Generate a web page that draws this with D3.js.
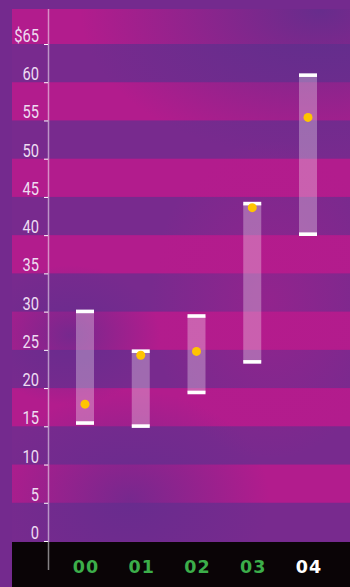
<!DOCTYPE html>
<html><head><meta charset="utf-8">
<script src="https://cdn.jsdelivr.net/npm/d3@7"></script>
<style>html,body{margin:0;padding:0;background:#6e2a8e;}svg{display:block;}</style>
</head><body>
<script>
const years = ["00","01","02","03","04"];
const highs = [30.0, 24.8, 29.4, 44.1, 60.9];
const lows = [15.4, 15.0, 19.4, 23.4, 40.1];
const closes = [17.9, 24.3, 24.8, 43.6, 55.4];
const tickValues = [0,5,10,15,20,25,30,35,40,45,50,55,60,65];
const tickLabels = ["0","5","10","15","20","25","30","35","40","45","50","55","60","$65"];
const bandStarts = [5,15,25,35,45,55,65];

const W = 350, H = 587;
const svg = d3.select("body").append("svg").attr("width", W).attr("height", H);
const defs = svg.append("defs");

const y = d3.scaleLinear().domain([0, 65]).range([541, 44]);
const x = d3.scalePoint().domain(years).range([85, 308]);

function radial(id, color, op) {
  const g = defs.append("radialGradient").attr("id", id);
  g.append("stop").attr("offset", "0%").attr("stop-color", color).attr("stop-opacity", op);
  g.append("stop").attr("offset", "100%").attr("stop-color", color).attr("stop-opacity", 0);
}
radial("blue1", "#5a2f8c", 0.85);
radial("blue2", "#632c8e", 0.75);
radial("pink1", "#b81a8c", 0.4);

defs.append("clipPath").attr("id", "plot").append("rect")
  .attr("x", 12).attr("y", 9).attr("width", W - 12).attr("height", 541 - 9);

// base
svg.append("rect").attr("width", W).attr("height", H).attr("fill", "#742a8e");

const plot = svg.append("g").attr("clip-path", "url(#plot)");
plot.append("rect").attr("x", 12).attr("y", 0).attr("width", W).attr("height", H).attr("fill", "#782a8e");
plot.selectAll("rect.band").data(bandStarts).join("rect").attr("class", "band")
  .attr("x", 12).attr("width", W - 12)
  .attr("y", d => y(d + 5)).attr("height", d => y(d) - y(d + 5))
  .attr("fill", "#b21c8d");

// tonal overlays
plot.append("ellipse").attr("cx", 320).attr("cy", 10).attr("rx", 240).attr("ry", 150).attr("fill", "url(#blue1)");
plot.append("ellipse").attr("cx", 130).attr("cy", 500).attr("rx", 140).attr("ry", 110).attr("fill", "url(#blue2)");
plot.append("ellipse").attr("cx", 70).attr("cy", 335).attr("rx", 90).attr("ry", 70).attr("fill", "url(#blue2)");
plot.append("ellipse").attr("cx", 270).attr("cy", 300).attr("rx", 120).attr("ry", 160).attr("fill", "url(#pink1)");

// bottom black bar
svg.append("rect").attr("x", 12).attr("y", 542).attr("width", W - 12).attr("height", H - 542).attr("fill", "#0a0406");

// axis line
svg.append("line").attr("x1", 48.5).attr("x2", 48.5).attr("y1", 9).attr("y2", 570)
  .attr("stroke", "#ffffff").attr("stroke-opacity", 0.5).attr("stroke-width", 1.5);

// ticks
const axis = d3.axisLeft(y).tickValues(tickValues).tickSize(4).tickFormat(() => "");
const ag = svg.append("g").attr("transform", "translate(48,0)").call(axis);
ag.select(".domain").remove();
ag.selectAll(".tick line").attr("stroke", "#ffffff").attr("stroke-width", 1);

// tick labels
svg.selectAll("g.lbl").data(tickValues).join("g").attr("class", "lbl")
  .attr("transform", d => `translate(39,${y(d) - 2}) scale(0.84,1)`)
  .append("text")
  .attr("text-anchor", "end")
  .attr("font-family", "Roboto, 'Liberation Sans', sans-serif")
  .attr("font-weight", 400)
  .attr("font-size", 17.5)
  .attr("fill", "#eedcf2")
  .text((d, i) => tickLabels[i]);

// range bars
const bw = 18;
const bars = svg.selectAll("g.bar").data(years).join("g").attr("class", "bar");
bars.append("rect")
  .attr("x", d => x(d) - bw / 2).attr("width", bw)
  .attr("y", (d, i) => y(highs[i])).attr("height", (d, i) => y(lows[i]) - y(highs[i]))
  .attr("fill", "#ffffff").attr("fill-opacity", 0.3);
bars.append("rect")
  .attr("x", d => x(d) - bw / 2).attr("width", bw)
  .attr("y", (d, i) => y(highs[i]) - 2).attr("height", 3.6)
  .attr("fill", "#ffffff");
bars.append("rect")
  .attr("x", d => x(d) - bw / 2).attr("width", bw)
  .attr("y", (d, i) => y(lows[i]) - 2).attr("height", 3.6)
  .attr("fill", "#ffffff");
bars.append("circle")
  .attr("cx", d => x(d)).attr("cy", (d, i) => y(closes[i])).attr("r", 4.5)
  .attr("fill", "#ffc400");

// year labels
svg.selectAll("text.yr").data(years).join("text").attr("class", "yr")
  .attr("x", d => x(d) + 1).attr("y", 572.5)
  .attr("text-anchor", "middle")
  .attr("font-family", "'DejaVu Sans', sans-serif")
  .attr("font-weight", "bold")
  .attr("font-size", 17.5)
  .attr("letter-spacing", 1)
  .attr("fill", (d, i) => i === years.length - 1 ? "#ffffff" : "#3cae4a")
  .text(d => d);
</script>
</body></html>
